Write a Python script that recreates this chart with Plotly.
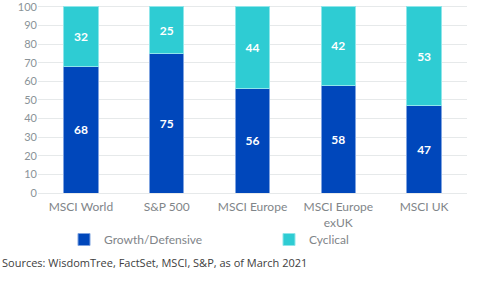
import plotly.graph_objects as go

categories = ["MSCI World", "S&P 500", "MSCI Europe", "MSCI Europe<br>exUK", "MSCI UK"]
growth = [68, 75, 56, 58, 47]
cyclical = [32, 25, 44, 42, 53]
y_ticks = list(range(0, 101, 10))

fig = go.Figure()
fig.add_trace(go.Bar(
    x=categories, y=growth, name="Growth/Defensive",
    marker=dict(color="#0047BB", line=dict(color="#7FA3E0", width=1)),
    text=growth, textposition="inside", insidetextanchor="middle",
    textfont=dict(color="white", size=12, family="Lato", weight="bold"),
))
fig.add_trace(go.Bar(
    x=categories, y=cyclical, name="Cyclical",
    marker=dict(color="#2ECCD3", line=dict(color="#8FE6EA", width=1)),
    text=cyclical, textposition="inside", insidetextanchor="middle",
    textfont=dict(color="white", size=12, family="Lato", weight="bold"),
))

fig.update_layout(
    barmode="stack",
    bargap=0.6,
    width=480, height=285,
    margin=dict(l=38, r=13, t=5, b=92, autoexpand=False),
    paper_bgcolor="white", plot_bgcolor="white",
    font=dict(family="Lato", color="#7F8589", size=11),
    showlegend=True,
    legend=dict(
        orientation="h", xref="container", x=64/480, xanchor="left",
        yref="container", y=1 - 225/285, yanchor="top",
        itemwidth=30, entrywidth=160, entrywidthmode="pixels",
        font=dict(size=12, color="#7F8589"), traceorder="normal",
        itemclick=False, bgcolor="rgba(0,0,0,0)",
    ),
    yaxis=dict(
        range=[0, 101], tickvals=y_ticks, showgrid=True, gridcolor="#E6E9EA",
        gridwidth=1, zeroline=False, showline=False, ticks="", automargin=False,
        tickfont=dict(size=11, color="#8A9398"), ticklabeloverflow="allow",
    ),
    xaxis=dict(
        showline=True, linecolor="#E6E9EA", ticks="", automargin=False,
        tickfont=dict(size=12, color="#7F8589"), ticklabelstandoff=3,
    ),
    annotations=[dict(
        text="Sources: WisdomTree, FactSet, MSCI, S&P, as of March 2021",
        xref="paper", yref="paper", x=-38/429, y=-69/188, xanchor="left", yanchor="middle",
        showarrow=False, font=dict(family="Open Sans", size=11, color="#404040"),
    )],
)

fig.write_html("out.html")
